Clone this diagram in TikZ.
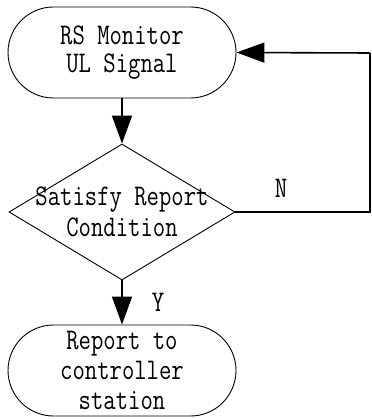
\documentclass[tikz,border=0pt]{standalone}
\usepackage{fontspec}
\setmainfont[FakeStretch=0.8]{Latin Modern Mono}
\usetikzlibrary{shapes.misc,shapes.geometric,arrows.meta}
\tikzset{
  term/.style={draw, line width=0.9pt, rounded rectangle, minimum width=228pt, minimum height=91pt, inner sep=0pt},
  diam/.style={draw, line width=0.9pt, diamond, minimum width=226pt, minimum height=136pt, inner sep=0pt},
  txt/.style={align=center, font=\fontsize{30}{28}\selectfont, inner sep=0pt},
  lbl/.style={font=\fontsize{30}{29}\selectfont, inner sep=0pt},
  conn/.style={line width=1.6pt, -{Triangle[length=28pt,width=20pt]}},
  line/.style={line width=1.6pt}
}
\begin{document}
\begin{tikzpicture}[x=1pt,y=-1pt]
\useasboundingbox (0,0) rectangle (371,419);
\node[term] (mon) at (122,52.5) {};
\node[txt] at (mon) {RS Monitor\\UL Signal};
\node[diam] (cond) at (122,212) {};
\node[txt, font=\fontsize{30}{31}\selectfont] at (cond) {Satisfy Report\\Condition};
\node[term] (rep) at (122,370.5) {};
\node[txt, font=\fontsize{30}{30}\selectfont] at (rep) {Report to\\controller\\station};
\coordinate (c1) at (370,212);
\coordinate (c2) at (370,53);
\draw[conn] (mon.south) -- (cond.north);
\draw[conn] (cond.south) -- (rep.north);
\draw[line] (cond.east) -- (c1) -- (c2);
\draw[conn] (c2) -- (mon.east);
\node[lbl] (n) at (281,188) {N};
\node[lbl] (y) at (158,302) {Y};
\end{tikzpicture}
\end{document}
